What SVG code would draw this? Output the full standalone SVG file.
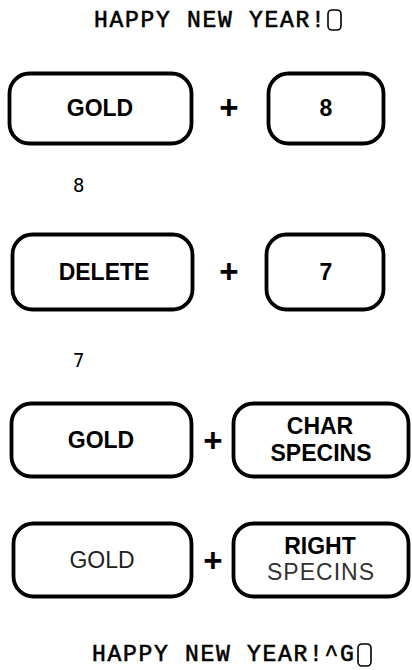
<svg xmlns="http://www.w3.org/2000/svg" width="412" height="670" viewBox="0 0 412 670">
<style>
.key{fill:#fff;stroke:#000;stroke-width:3.8}
.lbl{font-family:"Liberation Sans",Arial,sans-serif;font-weight:bold;font-size:23px;text-anchor:middle;fill:#000}
.plus{font-family:"Liberation Sans",Arial,sans-serif;font-weight:bold;font-size:33px;text-anchor:middle;fill:#000}
.term{font-family:"Liberation Mono","Courier New",monospace;font-size:23px;fill:#000;stroke:#000;stroke-width:0.6;letter-spacing:1.7px}
.small{font-family:"DejaVu Sans Mono",monospace;font-size:19px;fill:#000}
.cur{fill:none;stroke:#000;stroke-width:1.6}
</style>
<g id="top-line">
<text class="term" x="94" y="27">HAPPY NEW YEAR!</text>
<rect class="cur" x="328" y="10" width="13" height="20" rx="4"/>
</g>
<g id="row1-gold"><rect class="key" x="9.5" y="73.5" width="182" height="70" rx="20"/><text class="lbl" x="100" y="116">GOLD</text></g>
<g id="row1-plus"><text class="plus" x="229" y="119">+</text></g>
<g id="row1-8"><rect class="key" x="268.5" y="73.5" width="115" height="70" rx="20"/><text class="lbl" x="326" y="116">8</text></g>
<g id="echo-8"><text class="small" x="73" y="192">8</text></g>
<g id="row2-delete"><rect class="key" x="12.5" y="234.5" width="180" height="75" rx="20"/><text class="lbl" x="104" y="280">DELETE</text></g>
<g id="row2-plus"><text class="plus" x="229" y="283">+</text></g>
<g id="row2-7"><rect class="key" x="266.5" y="234.5" width="117" height="75" rx="20"/><text class="lbl" x="326" y="280">7</text></g>
<g id="echo-7"><text class="small" x="73" y="367">7</text></g>
<g id="row3-gold"><rect class="key" x="11.5" y="403.5" width="180" height="73" rx="20"/><text class="lbl" x="101" y="448">GOLD</text></g>
<g id="row3-plus"><text class="plus" x="213" y="452">+</text></g>
<g id="row3-char"><rect class="key" x="233.5" y="403.5" width="175" height="73" rx="20"/><text class="lbl" x="320" y="434">CHAR</text><text class="lbl" x="321" y="461">SPECINS</text></g>
<g id="row4-gold"><rect class="key" x="13.5" y="523.5" width="178" height="73" rx="20"/><text class="lbl" x="102" y="568" style="font-weight:normal;fill:#222">GOLD</text></g>
<g id="row4-plus"><text class="plus" x="213" y="572">+</text></g>
<g id="row4-right"><rect class="key" x="233.5" y="523.5" width="175" height="73" rx="20"/><text class="lbl" x="320" y="554">RIGHT</text><text class="lbl" x="321" y="580" style="font-weight:normal;fill:#333;letter-spacing:1px">SPECINS</text></g>
<g id="bottom-line">
<text class="term" x="92" y="661">HAPPY NEW YEAR!^G</text>
<rect class="cur" x="358" y="644" width="13" height="22" rx="4"/>
</g>
</svg>
